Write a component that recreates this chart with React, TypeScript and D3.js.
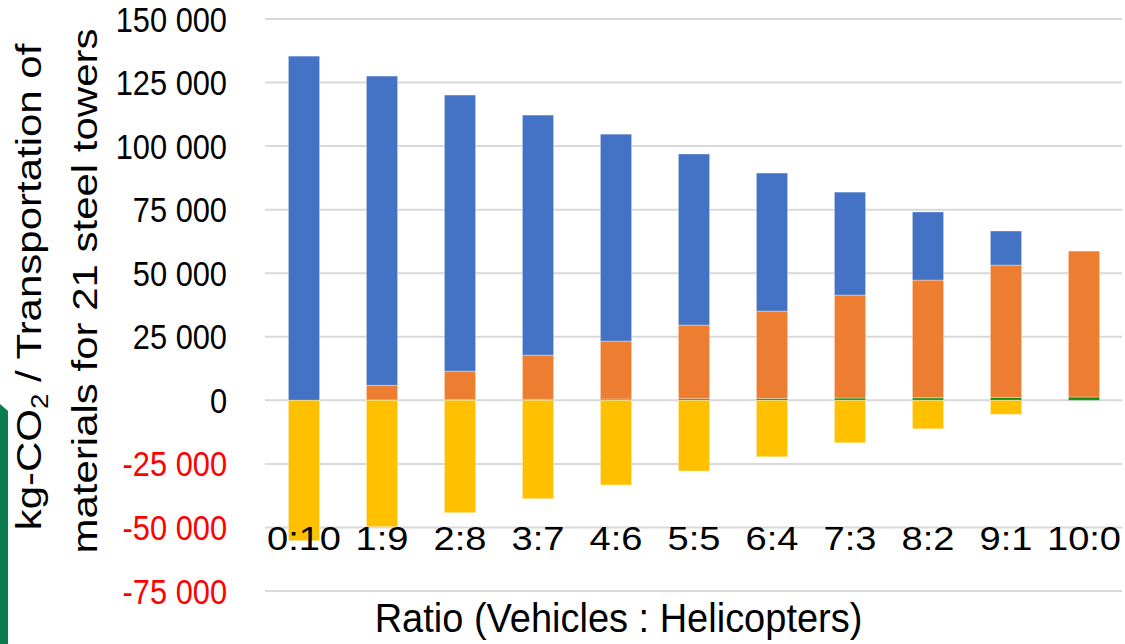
import React from "react";
import * as d3 from "d3";

const categories = ["0:10", "1:9", "2:8", "3:7", "4:6", "5:5", "6:4", "7:3", "8:2", "9:1", "10:0"];
const greenValues = [0, 130, 250, 400, 500, 650, 750, 900, 1000, 1150, 1300];
const orangeValues = [0, 5770, 11250, 17400, 22800, 28950, 34350, 40500, 46300, 52050, 57400];
const blueValues = [135400, 121650, 108580, 94400, 81400, 67300, 54300, 40500, 26800, 13400, 0];
const yellowValues = [-55200, -49700, -44200, -38700, -33300, -27800, -22200, -16700, -11200, -5500, 0];
const yTicks = [150000, 125000, 100000, 75000, 50000, 25000, 0, -25000, -50000, -75000];
const xTitle = "Ratio (Vehicles : Helicopters)";

const COLORS = { green: "#138a13", orange: "#ED7D31", blue: "#4472C4", yellow: "#FFC000" };
const FONT = "'Liberation Sans', Arial, Helvetica, sans-serif";

const fmt = (v: number) => {
  const s = Math.abs(v).toString().replace(/\B(?=(\d{3})+(?!\d))/g, " ");
  return (v < 0 ? "-" : "") + s;
};

export default function App() {
  const W = 1125, H = 644;
  const y = d3.scaleLinear().domain([-75000, 150000]).range([591, 19]);
  const x = d3.scaleBand<string>().domain(categories).range([265, 1123]).paddingInner(0.6).paddingOuter(0.3);
  const bw = x.bandwidth();

  const rows = categories.map((c, i) => ({ c, green: greenValues[i], orange: orangeValues[i], blue: blueValues[i] }));
  const stack = d3.stack<any>().keys(["green", "orange", "blue"])(rows);

  return (
    <svg width={W} height={H} style={{ position: "absolute", left: 0, top: 0, background: "#fff" }}>
      <rect x={0} y={0} width={W} height={H} fill="#fff" />
      <polygon points="0,404 8,411 8,644 0,644" fill="#0a7c4e" />
      {yTicks.map((t) => (
        <line key={t} x1={265} x2={1122} y1={y(t)} y2={y(t)} stroke="#d9d9d9" strokeWidth={2} />
      ))}
      {stack.map((s) => (
        <g key={s.key} fill={(COLORS as any)[s.key]}>
          {s.map((d, i) => {
            const h = y(d[0]) - y(d[1]);
            if (h <= 0) return null;
            return (
              <rect key={i} x={x(categories[i])} y={y(d[1])} width={bw} height={h}
                stroke="#ffffff" strokeOpacity={0.35} strokeWidth={1} />
            );
          })}
        </g>
      ))}
      <g fill={COLORS.yellow}>
        {yellowValues.map((v, i) => {
          const h = y(v) - y(0);
          if (h <= 0) return null;
          return <rect key={i} x={x(categories[i])} y={y(0)} width={bw} height={h}
            stroke="#ffffff" strokeOpacity={0.35} strokeWidth={1} />;
        })}
      </g>
      {yTicks.map((t) => (
        <text key={t} transform={`translate(227,${y(t) + 12.5}) scale(0.88,1)`} textAnchor="end"
          fontFamily={FONT} fontSize={35} fill={t < 0 ? "#ff0000" : "#000"}>{fmt(t)}</text>
      ))}
      {categories.map((c) => (
        <text key={c} transform={`translate(${(x(c) as number) + bw / 2},549.5) scale(1.12,1)`} textAnchor="middle"
          fontFamily={FONT} fontSize={34} fill="#000">{c}</text>
      ))}
      <text transform="translate(618.5,631.7) scale(0.95,1)" textAnchor="middle" fontFamily={FONT} fontSize={40} fill="#000">{xTitle}</text>
      <text transform="translate(41,287) rotate(-90) scale(1.2,1)" textAnchor="middle" fontFamily={FONT} fontSize={35} fill="#000">
        kg-CO<tspan fontSize={23} dy={7}>2</tspan><tspan dy={-7}> / Transportation of</tspan>
      </text>
      <text transform="translate(97,291) rotate(-90) scale(1.2,1)" textAnchor="middle" fontFamily={FONT} fontSize={35} fill="#000">
        materials for 21 steel towers
      </text>
    </svg>
  );
}
